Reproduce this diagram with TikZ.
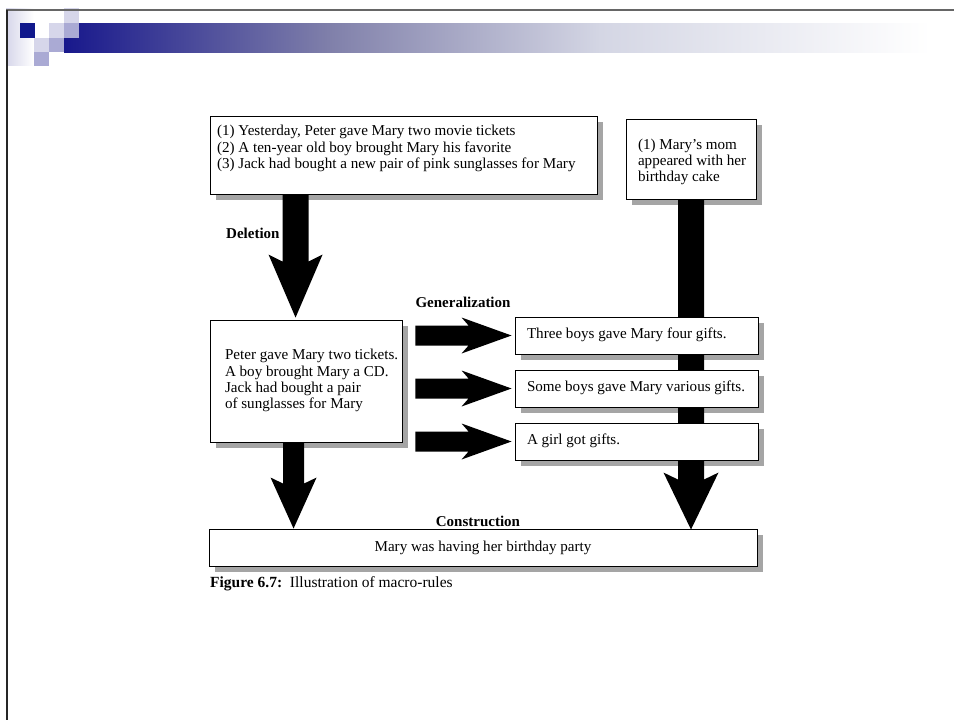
\documentclass[tikz,border=0pt]{standalone}
\usepackage{fontspec}
\setmainfont{Liberation Serif}
\usetikzlibrary{calc}
\pgfdeclarelayer{shadowlayer}
\pgfdeclarelayer{arrowlayer}
\pgfsetlayers{shadowlayer,arrowlayer,main}
\definecolor{slidedark}{RGB}{16,24,140}
\definecolor{slidelight}{RGB}{214,214,234}
\definecolor{slidemid}{RGB}{170,170,212}
\definecolor{bandA}{RGB}{24,24,140}
\definecolor{bandB}{RGB}{128,128,170}
\definecolor{bandC}{RGB}{212,214,228}
\definecolor{shadowgray}{RGB}{165,165,165}

\newcommand\boxlines[2]{\makebox[#1][l]{\begin{tabular}{@{}l@{}}#2\end{tabular}}}

% vertical block arrow: start, tip, shaft half width, head half width, head length, notch
\newcommand\vblock[6]{%
  \fill[black] let \p1=(#1), \p2=(#2) in
    (\x1-#3,\y1) -- (\x1-#3,\y2+#5-#6) -- (\x1-#4,\y2+#5) -- (\x1,\y2)
    -- (\x1+#4,\y2+#5) -- (\x1+#3,\y2+#5-#6) -- (\x1+#3,\y1) -- cycle;}
% horizontal block arrow (pointing right)
\newcommand\hblock[6]{%
  \fill[black] let \p1=(#1), \p2=(#2) in
    (\x1,\y1+#3) -- (\x2-#5+#6,\y1+#3) -- (\x2-#5,\y1+#4) -- (\x2,\y1)
    -- (\x2-#5,\y1-#4) -- (\x2-#5+#6,\y1-#3) -- (\x1,\y1-#3) -- cycle;}

\begin{document}
\begin{tikzpicture}[x=1pt,y=-1pt,
  every node/.style={font=\fontsize{15.1}{16.2}\selectfont},
  box/.style={draw=black, line width=0.9pt, fill=white, inner ysep=0pt},
  lbl/.style={font=\fontsize{15}{16.5}\selectfont\bfseries, inner sep=0pt}]
\useasboundingbox (0,0) rectangle (954,720);

% ---- slide decoration ----
\shade[left color=slidelight, right color=white] (6,8) rectangle (34,65);
\shade[left color=bandA, right color=bandB] (64,23) rectangle (330.5,52);
\shade[left color=bandB, right color=bandC] (330,23) rectangle (600.5,52);
\shade[left color=bandC, right color=white] (600,23) rectangle (930,52);
\fill[slidedark] (20,23) rectangle (35,38);
\fill[slidelight] (49,23) rectangle (64,38);
\fill[slidelight] (64,8) rectangle (79,23);
\fill[slidemid] (64,23) rectangle (79,38);
\fill[slidelight] (34,38) rectangle (49,52);
\fill[slidemid] (49,38) rectangle (64,52);
\fill[slidemid] (34,52) rectangle (49,66);
\draw[line width=2pt, black!60] (6,10) -- (954,10);
\draw[line width=1.5pt, black!85] (7,10) -- (7,720);

% ---- boxes ----
\node[box, minimum width=387pt, minimum height=78pt, inner xsep=7pt] (tl) at (403.5,155)
  {\boxlines{373pt}{(1) Yesterday, Peter gave Mary two movie tickets\\(2) A ten-year old boy brought Mary his favorite\\(3) Jack had bought a new pair of pink sunglasses for Mary}\rule[-33pt]{0pt}{1pt}};
\node[box, minimum width=130pt, minimum height=80pt, inner xsep=12pt] (tr) at (691,159)
  {\boxlines{106pt}{(1) Mary’s mom\\appeared with her\\birthday cake}\rule{0pt}{34pt}};
\node[box, minimum width=192pt, minimum height=122pt, inner xsep=15pt] (ml) at (306,381)
  {\boxlines{162pt}{Peter gave Mary two tickets.\\A boy brought Mary a CD.\\Jack had bought a pair\\of sunglasses for Mary}};
\node[box, minimum width=243pt, minimum height=37pt, inner xsep=12pt] (g1) at (636.5,335.5)
  {\boxlines{219pt}{Three boys gave Mary four gifts.}};
\node[box, minimum width=243pt, minimum height=37pt, inner xsep=12pt] (g2) at (636.5,388.5)
  {\boxlines{219pt}{Some boys gave Mary various gifts.}};
\node[box, minimum width=243pt, minimum height=37pt, inner xsep=12pt] (g3) at (636.5,441.5)
  {\boxlines{219pt}{A girl got gifts.}};
\node[box, minimum width=548pt, minimum height=37pt] (bot) at (483,547.5)
  {Mary was having her birthday party};

% ---- labels ----
\node[lbl, anchor=west] (del) at (226,233) {Deletion};
\node[lbl] (gen) at (463,302) {Generalization};
\node[lbl] (con) at (478,521) {Construction};
\node[anchor=west, inner sep=0pt, font=\fontsize{15.5}{18}\selectfont] (cap) at (210,583.5)
  {\textbf{Figure 6.7:}\ \ Illustration of macro-rules};

% ---- shadows ----
\begin{pgfonlayer}{shadowlayer}
\foreach \b in {tl,tr,ml,g1,g2,g3,bot}
  \fill[shadowgray] ($(\b.south west)+(6,6)$) rectangle ($(\b.north east)+(6,6)$);
\end{pgfonlayer}

% ---- block arrows ----
\begin{pgfonlayer}{arrowlayer}
\coordinate (a1s) at ($(tl.south west)+(86,0)$);
\coordinate (a1e) at ($(a1s |- ml.north)+(0,-2)$);
\vblock{a1s}{a1e}{13pt}{27pt}{63pt}{7pt}
\coordinate (a2s) at ($(ml.south west)+(84,0)$);
\coordinate (a2e) at (a2s |- bot.north);
\vblock{a2s}{a2e}{10.5pt}{23pt}{51pt}{6pt}
\coordinate (a3e) at ($(tr.south |- bot.north)+(0,1)$);
\vblock{tr.south}{a3e}{13pt}{27.5pt}{57pt}{7pt}
\foreach \g in {g1,g2,g3}{
  \coordinate (hs) at ($(ml.east |- \g.west)+(13,0)$);
  \coordinate (he) at ($(\g.west)+(-3,0)$);
  \hblock{hs}{he}{10pt}{18pt}{50pt}{7pt}
}
\end{pgfonlayer}
\end{tikzpicture}
\end{document}
